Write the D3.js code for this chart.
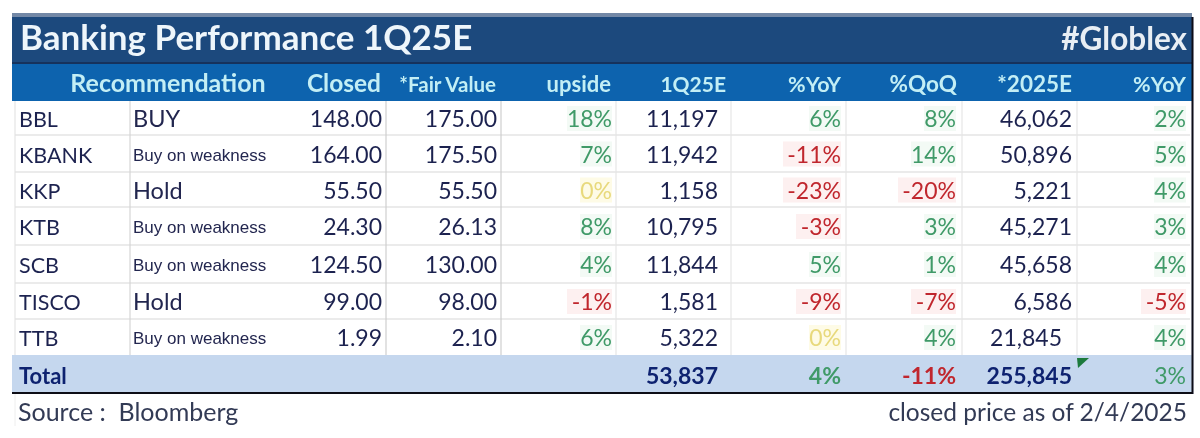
<!DOCTYPE html>
<html>
<head>
<meta charset="utf-8">
<script src="https://cdn.jsdelivr.net/npm/d3@7"></script>
<style>
  html, body { margin: 0; padding: 0; background: #fff; }
  svg { display: block; }
  text { font-family: Lato, "Open Sans", sans-serif; }
</style>
</head>
<body>
<div id="chart"></div>
<script>
var tickers = ["BBL", "KBANK", "KKP", "KTB", "SCB", "TISCO", "TTB"];
var recommendations = ["BUY", "Buy on weakness", "Hold", "Buy on weakness", "Buy on weakness", "Hold", "Buy on weakness"];
var closePrice = ["148.00", "164.00", "55.50", "24.30", "124.50", "99.00", "1.99"];
var fairValue = ["175.00", "175.50", "55.50", "26.13", "130.00", "98.00", "2.10"];
var upside = [18, 7, 0, 8, 4, -1, 6];
var profit1Q = ["11,197", "11,942", "1,158", "10,795", "11,844", "1,581", "5,322"];
var yoy1Q = [6, -11, -23, -3, 5, -9, 0];
var qoq = [8, 14, -20, 3, 1, -7, 4];
var profit2025 = ["46,062", "50,896", "5,221", "45,271", "45,658", "6,586", "21,845"];
var yoy2025 = [2, 5, 4, 3, 4, -5, 4];

var columns = ["closed", "fair", "upside", "q1", "yoy", "qoq", "fy", "fyYoy"];
var headers = ["Closed", "*Fair Value", "upside", "1Q25E", "%YoY", "%QoQ", "*2025E", "%YoY"];
var columnValues = [closePrice, fairValue, upside, profit1Q, yoy1Q, qoq, profit2025, yoy2025];
var totals = ["", "", "", "53,837", 4, -11, "255,845", 3];

var width = 1200, height = 438;

// cell edges in the picture are not quite even, so ordinal scales rather than bands
var rowTop = d3.scaleOrdinal().domain(tickers.concat("Total")).range([101, 135, 172, 207, 245, 283, 319, 355]);
var rowBottom = d3.scaleOrdinal().domain(tickers.concat("Total")).range([135, 172, 207, 245, 283, 319, 355, 392]);
var colRight = d3.scaleOrdinal().domain(columns).range([386, 501, 616, 731, 846, 962, 1077, 1191]);
var colPad = d3.scaleOrdinal().domain(columns).range([4, 4, 4, 13, 5, 6, 5, 5]);
var headSize = d3.scaleOrdinal().domain(columns).range([24.5, 20.5, 22, 21, 21.5, 22.5, 22.5, 21.5]);
var rowMid = function(t) { return (rowTop(t) + rowBottom(t)) / 2; };

var svg = d3.select("#chart").append("svg").attr("width", width).attr("height", height);

var defs = svg.append("defs");
defs.append("filter").attr("id", "soft").append("feGaussianBlur").attr("stdDeviation", 0.5);

var g = svg.append("g").attr("filter", "url(#soft)");

// bands
g.append("rect").attr("x", 12).attr("y", 13).attr("width", 1180).attr("height", 5).attr("fill", "#7388a6");
g.append("rect").attr("x", 12).attr("y", 17).attr("width", 1180).attr("height", 46).attr("fill", "#1f497d");
g.append("rect").attr("x", 12).attr("y", 62).attr("width", 1180).attr("height", 2).attr("fill", "#12315c");
g.append("rect").attr("x", 12).attr("y", 64).attr("width", 1180).attr("height", 37).attr("fill", "#0a64ae");
g.append("rect").attr("x", 12).attr("y", 355).attr("width", 1180).attr("height", 37).attr("fill", "#c5d7ee");

// grid lines
g.selectAll(".row-line").data(tickers.slice(0, -1)).enter().append("line")
  .attr("class", "row-line")
  .attr("x1", 15).attr("x2", 1190)
  .attr("y1", rowBottom).attr("y2", rowBottom)
  .attr("stroke", "#d8d8d8").attr("stroke-width", 1.2);

var vLines = [{x: 15, c: "#e4e4e4"}, {x: 130, c: "#d6d6d6"}];
columns.slice(0, 7).forEach(function(c, i) {
  vLines.push({x: colRight(c), c: i < 2 ? "#cfcfcf" : "#e6e6e6"});
});
g.selectAll(".col-line").data(vLines).enter().append("line")
  .attr("class", "col-line")
  .attr("x1", function(d) { return d.x; }).attr("x2", function(d) { return d.x; })
  .attr("y1", 101).attr("y2", 355)
  .attr("stroke", function(d) { return d.c; }).attr("stroke-width", 1.2);

g.append("line").attr("x1", 15).attr("x2", 15).attr("y1", 394).attr("y2", 426).attr("stroke", "#eeeeee");

// outer rules
g.append("line").attr("x1", 12).attr("x2", 1193).attr("y1", 393).attr("y2", 393).attr("stroke", "#0b0b14").attr("stroke-width", 2);
g.append("line").attr("x1", 1192.5).attr("x2", 1192.5).attr("y1", 17).attr("y2", 394).attr("stroke", "#0b0b14").attr("stroke-width", 2);

// title
g.append("text").attr("x", 20).attr("y", 50).attr("fill", "#eef6fb")
  .attr("font-size", 35).attr("font-weight", 700).text("Banking Performance 1Q25E");
g.append("text").attr("x", 1187).attr("y", 50).attr("text-anchor", "end").attr("fill", "#e8eef4")
  .attr("font-size", 31.5).attr("font-weight", 700).text("#Globlex");

// header row
g.append("text").attr("x", 168).attr("y", 92).attr("text-anchor", "middle").attr("fill", "#c3eef5")
  .attr("font-size", 25).attr("font-weight", 700).text("Recommendation");
g.selectAll(".head").data(columns).enter().append("text")
  .attr("class", "head")
  .attr("x", function(c) { return colRight(c) - 5; })
  .attr("y", 92)
  .attr("text-anchor", "end")
  .attr("fill", "#c3eef5")
  .attr("font-weight", 700)
  .attr("font-size", function(c) { return headSize(c); })
  .text(function(c, i) { return headers[i]; });

// percentages are coloured by sign, zero goes yellow
function pctColor(v) {
  if (v > 0) return "#3f9a68";
  if (v < 0) return "#c0272d";
  return "#e8d97c";
}
function pctHalo(v) {
  if (v > 0) return "#f3faf5";
  if (v < 0) return "#fdf0f0";
  return "#fefbe6";
}

// first two columns
g.selectAll(".ticker").data(tickers).enter().append("text")
  .attr("class", "ticker")
  .attr("x", 19)
  .attr("y", function(t) { return rowMid(t) + 9; })
  .attr("fill", "#1d2350")
  .attr("font-size", 21.5)
  .text(function(t) { return t; });

g.selectAll(".rec").data(tickers).enter().append("text")
  .attr("class", "rec")
  .attr("x", 133)
  .attr("y", function(t) { return rowMid(t) + (recommendations[tickers.indexOf(t)].length > 4 ? 7 : 9); })
  .attr("fill", "#23264f")
  .style("font-family", function(t) { return recommendations[tickers.indexOf(t)].length > 4 ? "'Liberation Sans'" : null; })
  .attr("font-size", function(t) { return recommendations[tickers.indexOf(t)].length > 4 ? 17 : 23.5; })
  .text(function(t, i) { return recommendations[i]; });

// numeric cells
columns.forEach(function(col, ci) {
  var vals = columnValues[ci];
  var isPct = typeof vals[0] === "number";
  var cells = g.selectAll(".cell-" + col).data(tickers).enter().append("g").attr("class", "cell-" + col);
  var rightEdge = function(t) {
    return colRight(col) - (col === "fy" && t === "TTB" ? 15 : colPad(col));
  };
  if (isPct) {
    cells.append("rect")
      .attr("x", function(t, i) { return rightEdge(t) - (String(vals[i]).length * 13 + 19); })
      .attr("y", function(t) { return rowMid(t) - 12; })
      .attr("width", function(t, i) { return String(vals[i]).length * 13 + 19; })
      .attr("height", 25)
      .attr("fill", function(t, i) { return pctHalo(vals[i]); });
  }
  cells.append("text")
    .attr("x", rightEdge)
    .attr("y", function(t) { return rowMid(t) + 9; })
    .attr("text-anchor", "end")
    .attr("fill", function(t, i) { return isPct ? pctColor(vals[i]) : "#1d2350"; })
    .attr("font-size", 23)
    .text(function(t, i) { return isPct ? vals[i] + "%" : vals[i]; });
});

// total row
g.append("text").attr("x", 19).attr("y", 384).attr("fill", "#0f2270")
  .attr("font-size", 22).attr("font-weight", 700).text("Total");
g.selectAll(".total").data(columns).enter().append("text")
  .attr("class", "total")
  .attr("x", function(c) { return colRight(c) - colPad(c); })
  .attr("y", 384)
  .attr("text-anchor", "end")
  .attr("font-size", 23)
  .attr("font-weight", function(c) { return c === "fyYoy" ? 400 : 700; })
  .attr("fill", function(c, i) {
    return typeof totals[i] === "number" ? pctColor(totals[i]) : "#0f2270";
  })
  .text(function(c, i) { return typeof totals[i] === "number" ? totals[i] + "%" : totals[i]; });

// excel's little green corner mark on the 2025E total
var corner = d3.path();
corner.moveTo(colRight("fy"), 358);
corner.lineTo(colRight("fy") + 12, 358);
corner.lineTo(colRight("fy") + 1, 368);
corner.closePath();
g.append("path").attr("d", corner.toString()).attr("fill", "#1f7a3c");

// footnotes
g.append("text").attr("x", 18).attr("y", 421).attr("fill", "#333a55")
  .attr("font-size", 25).style("white-space", "pre").text("Source :  Bloomberg");
g.append("text").attr("x", 1187).attr("y", 421).attr("text-anchor", "end").attr("fill", "#333a55")
  .attr("font-size", 24.5).text("closed price as of 2/4/2025");
</script>
</body>
</html>
